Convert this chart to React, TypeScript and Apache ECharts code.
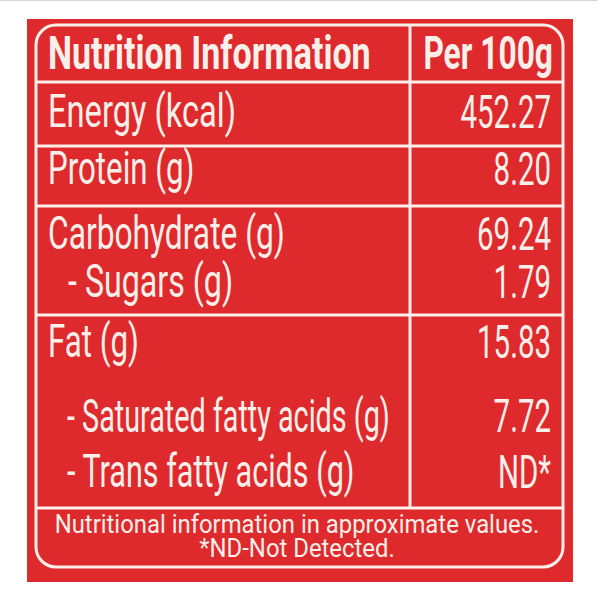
import React, { useEffect, useRef } from "react";
import * as echarts from "echarts";

// ---- content ----
const headerLabels = ["Nutrition Information", "Per 100g"];
const nutrientLabels = [
  "Energy (kcal)",
  "Protein (g)",
  "Carbohydrate (g)",
  "- Sugars (g)",
  "Fat (g)",
  "- Saturated fatty acids (g)",
  "- Trans fatty acids (g)",
];
const nutrientValues = ["452.27", "8.20", "69.24", "1.79", "15.83", "7.72", "ND*"];
const footnotes = ["Nutritional information in approximate values.", "*ND-Not Detected."];

// ---- layout (positions / styles only) ----
const rowBaselines = [128, 185, 250, 298, 358, 432, 488];
const rowIndents = [48, 48, 48, 68, 48, 67, 67];
const rowScaleX = [0.71, 0.68, 0.69, 0.7, 0.68, 0.625, 0.665];
const headerBaseline = 70;
const dividerYs = [82, 146, 206, 315, 508];
const footBaselines = [533, 557];

const RED = "#de2a2d";
const CREAM = "#fcefe9";
const FONT = "Roboto, 'Noto Sans', sans-serif";
const CAP = 33; // cap height of main text

export default function App() {
  const ref = useRef<HTMLDivElement>(null);
  useEffect(() => {
    if (!ref.current) return;
    const chart = echarts.init(ref.current, undefined, { renderer: "svg", width: 600, height: 600 });
    const L = 36, R = 563, T = 25, B = 567, MID = 410;
    const els: any[] = [];
    els.push({ type: "line", shape: { x1: 0, y1: 0.5, x2: 597, y2: 0.5 }, style: { stroke: "#d4d4d4", lineWidth: 1 } });
    els.push({ type: "rect", shape: { x: 27, y: 19, width: 546, height: 563 }, style: { fill: RED } });
    els.push({
      type: "rect",
      shape: { x: L, y: T, width: R - L, height: B - T, r: 20 },
      style: { fill: "none", stroke: CREAM, lineWidth: 3 },
    });
    dividerYs.forEach((y) => {
      els.push({ type: "line", shape: { x1: L, y1: y, x2: R, y2: y }, style: { stroke: CREAM, lineWidth: 3 } });
    });
    els.push({ type: "line", shape: { x1: MID, y1: T, x2: MID, y2: dividerYs[dividerYs.length - 1] }, style: { stroke: CREAM, lineWidth: 3 } });

    const txt = (text: string, x: number, baseline: number, opts: any) => ({
      type: "text",
      x,
      y: baseline - (opts.cap ?? CAP) / 2,
      scaleX: opts.scaleX,
      style: {
        text,
        fill: CREAM,
        fontFamily: FONT,
        fontSize: opts.fontSize ?? 46,
        fontWeight: opts.fontWeight ?? "normal",
        align: opts.align ?? "left",
        verticalAlign: "middle",
      },
    });

    els.push(txt(headerLabels[0], 48, headerBaseline, { fontWeight: "bold", scaleX: 0.74 }));
    els.push(txt(headerLabels[1], 553, headerBaseline, { fontWeight: "bold", scaleX: 0.69, align: "right" }));
    nutrientLabels.forEach((lab, i) => {
      els.push(txt(lab, rowIndents[i], rowBaselines[i], { scaleX: rowScaleX[i] }));
      els.push(txt(nutrientValues[i], 551, rowBaselines[i], { scaleX: 0.64, align: "right" }));
    });
    footnotes.forEach((f, i) => {
      els.push(txt(f, 297, footBaselines[i], { fontSize: 25, cap: 18, scaleX: 0.955, align: "center" }));
    });

    chart.setOption({ animation: false, backgroundColor: "#ffffff", graphic: { elements: els } });
    return () => chart.dispose();
  }, []);
  return <div ref={ref} style={{ position: "fixed", left: 0, top: 0, width: 600, height: 600 }} />;
}
